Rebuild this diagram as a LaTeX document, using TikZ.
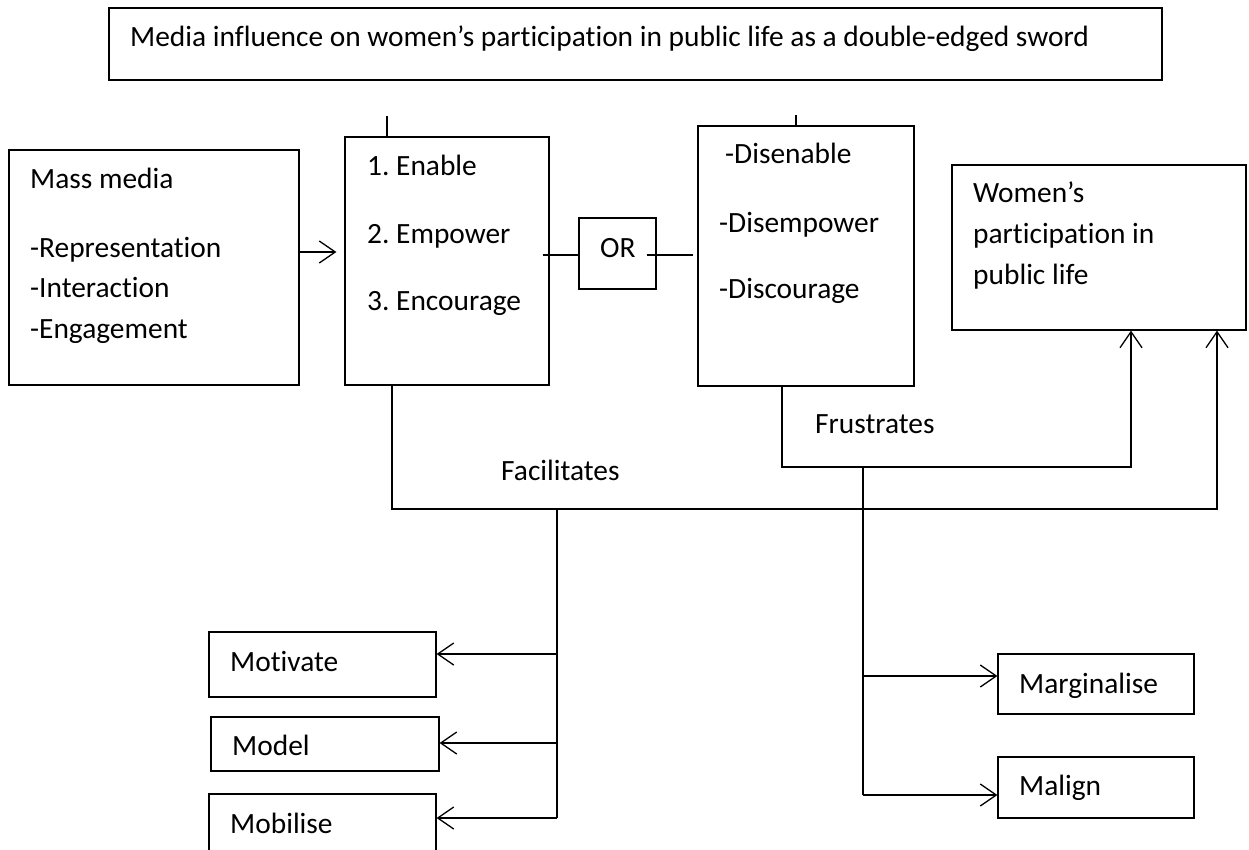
\documentclass[tikz,border=0pt]{standalone}
\usepackage{fontspec}
\setmainfont{Carlito}[Ligatures={NoCommon}]
\usetikzlibrary{arrows.meta}
\frenchspacing
\begin{document}
\begin{tikzpicture}[x=1pt,y=-1pt,
  box/.style={draw,line width=1.2pt,inner sep=0pt,rectangle},
  lbl/.style={anchor=base west,inner sep=0pt,font=\fontsize{29.4}{35}\selectfont},
  ln/.style={line width=1.3pt},
  arr/.style={line width=1.3pt,-{Straight Barb[length=16pt,width=22pt]}}]
\useasboundingbox (0,0) rectangle (1249,849);
\clip (0,0) rectangle (1249,849);
% boxes
\node[box,minimum width=1053pt,minimum height=72pt] (title) at (635.5,44) {};
\node[box,minimum width=290pt,minimum height=235pt] (mass) at (154,267.5) {};
\node[box,minimum width=204pt,minimum height=248pt] (enable) at (447,261) {};
\node[box,minimum width=77pt,minimum height=71pt] (or) at (617.5,253.5) {};
\node[box,minimum width=216pt,minimum height=260pt] (dis) at (806,256) {};
\node[box,minimum width=294pt,minimum height=165pt] (women) at (1099,247.5) {};
\node[box,minimum width=227pt,minimum height=65pt] (motivate) at (322.5,664.5) {};
\node[box,minimum width=228pt,minimum height=54pt] (model) at (325,744) {};
\node[box,minimum width=227pt,minimum height=76pt] (mobilise) at (322.5,832) {};
\node[box,minimum width=196pt,minimum height=60pt] (marg) at (1096,684) {};
\node[box,minimum width=196pt,minimum height=61pt] (malign) at (1096,787.5) {};
% texts
\node[lbl] (tTitle) at (130,46) {Media influence on women’s participation in public life as a double-edged sword};
\node[lbl] (tMass1) at (30,188) {Mass media};
\node[lbl] (tMass2) at (30,257) {-Representation};
\node[lbl] (tMass3) at (30,297) {-Interaction};
\node[lbl] (tMass4) at (30,338) {-Engagement};
\node[lbl] (tEn1) at (367,175) {1. Enable};
\node[lbl] (tEn2) at (367,243) {2. Empower};
\node[lbl] (tEn3) at (367,310) {3. Encourage};
\node[lbl] (tOR) at (600,257) {OR};
\node[lbl] (tDis1) at (725,163) {-Disenable};
\node[lbl] (tDis2) at (719,232) {-Disempower};
\node[lbl] (tDis3) at (719,298) {-Discourage};
\node[lbl] (tW1) at (973,202) {Women’s};
\node[lbl] (tW2) at (973,243) {participation in};
\node[lbl] (tW3) at (973,284) {public life};
\node[lbl] (tFr) at (815,433) {Frustrates};
\node[lbl] (tFa) at (501,480) {Facilitates};
\node[lbl] (tMot) at (230,671) {Motivate};
\node[lbl] (tMod) at (232,755) {Model};
\node[lbl] (tMob) at (230,833) {Mobilise};
\node[lbl] (tMar) at (1019,693) {Marginalise};
\node[lbl] (tMal) at (1019,795) {Malign};
% helper coordinates
\coordinate (yA) at (0,252);
\coordinate (yOR) at (0,255);
\coordinate (tE) at (387,116);
\coordinate (tD) at (796,115);
\coordinate (fr) at (782,467);
\coordinate (w1) at (1131,0);
\coordinate (fa) at (392,509);
\coordinate (w2) at (1217,0);
\coordinate (lt) at (557,509);
\coordinate (l1) at (557,654);
\coordinate (l2) at (557,743);
\coordinate (lb) at (557,818);
\coordinate (rt) at (863,467);
\coordinate (r1) at (863,676);
\coordinate (r2) at (863,795);
% connectors
\draw[arr,shorten >=8pt] (mass.east |- yA) -- (enable.west |- yA);
\draw[ln] ([xshift=-7pt]enable.east |- yOR) -- (or.west |- yOR);
\draw[ln] ([xshift=-10pt]or.east |- yOR) -- ([xshift=-4pt]dis.west |- yOR);
\draw[ln] (tE) -- (tE |- enable.north);
\draw[ln] (tD) -- (tD |- dis.north);
\draw[arr] (fr |- dis.south) -- (fr) -| (w1 |- women.south);
\draw[arr] (fa |- enable.south) -- (fa) -| (w2 |- women.south);
\draw[ln] (lt) -- (lb);
\draw[arr] (l1) -- (l1 -| motivate.east);
\draw[arr] (l2) -- (l2 -| model.east);
\draw[arr] (lb) -- (lb -| mobilise.east);
\draw[ln] (rt) -- (r2);
\draw[arr] (r1) -- (r1 -| marg.west);
\draw[arr] (r2) -- (r2 -| malign.west);
\end{tikzpicture}
\end{document}
